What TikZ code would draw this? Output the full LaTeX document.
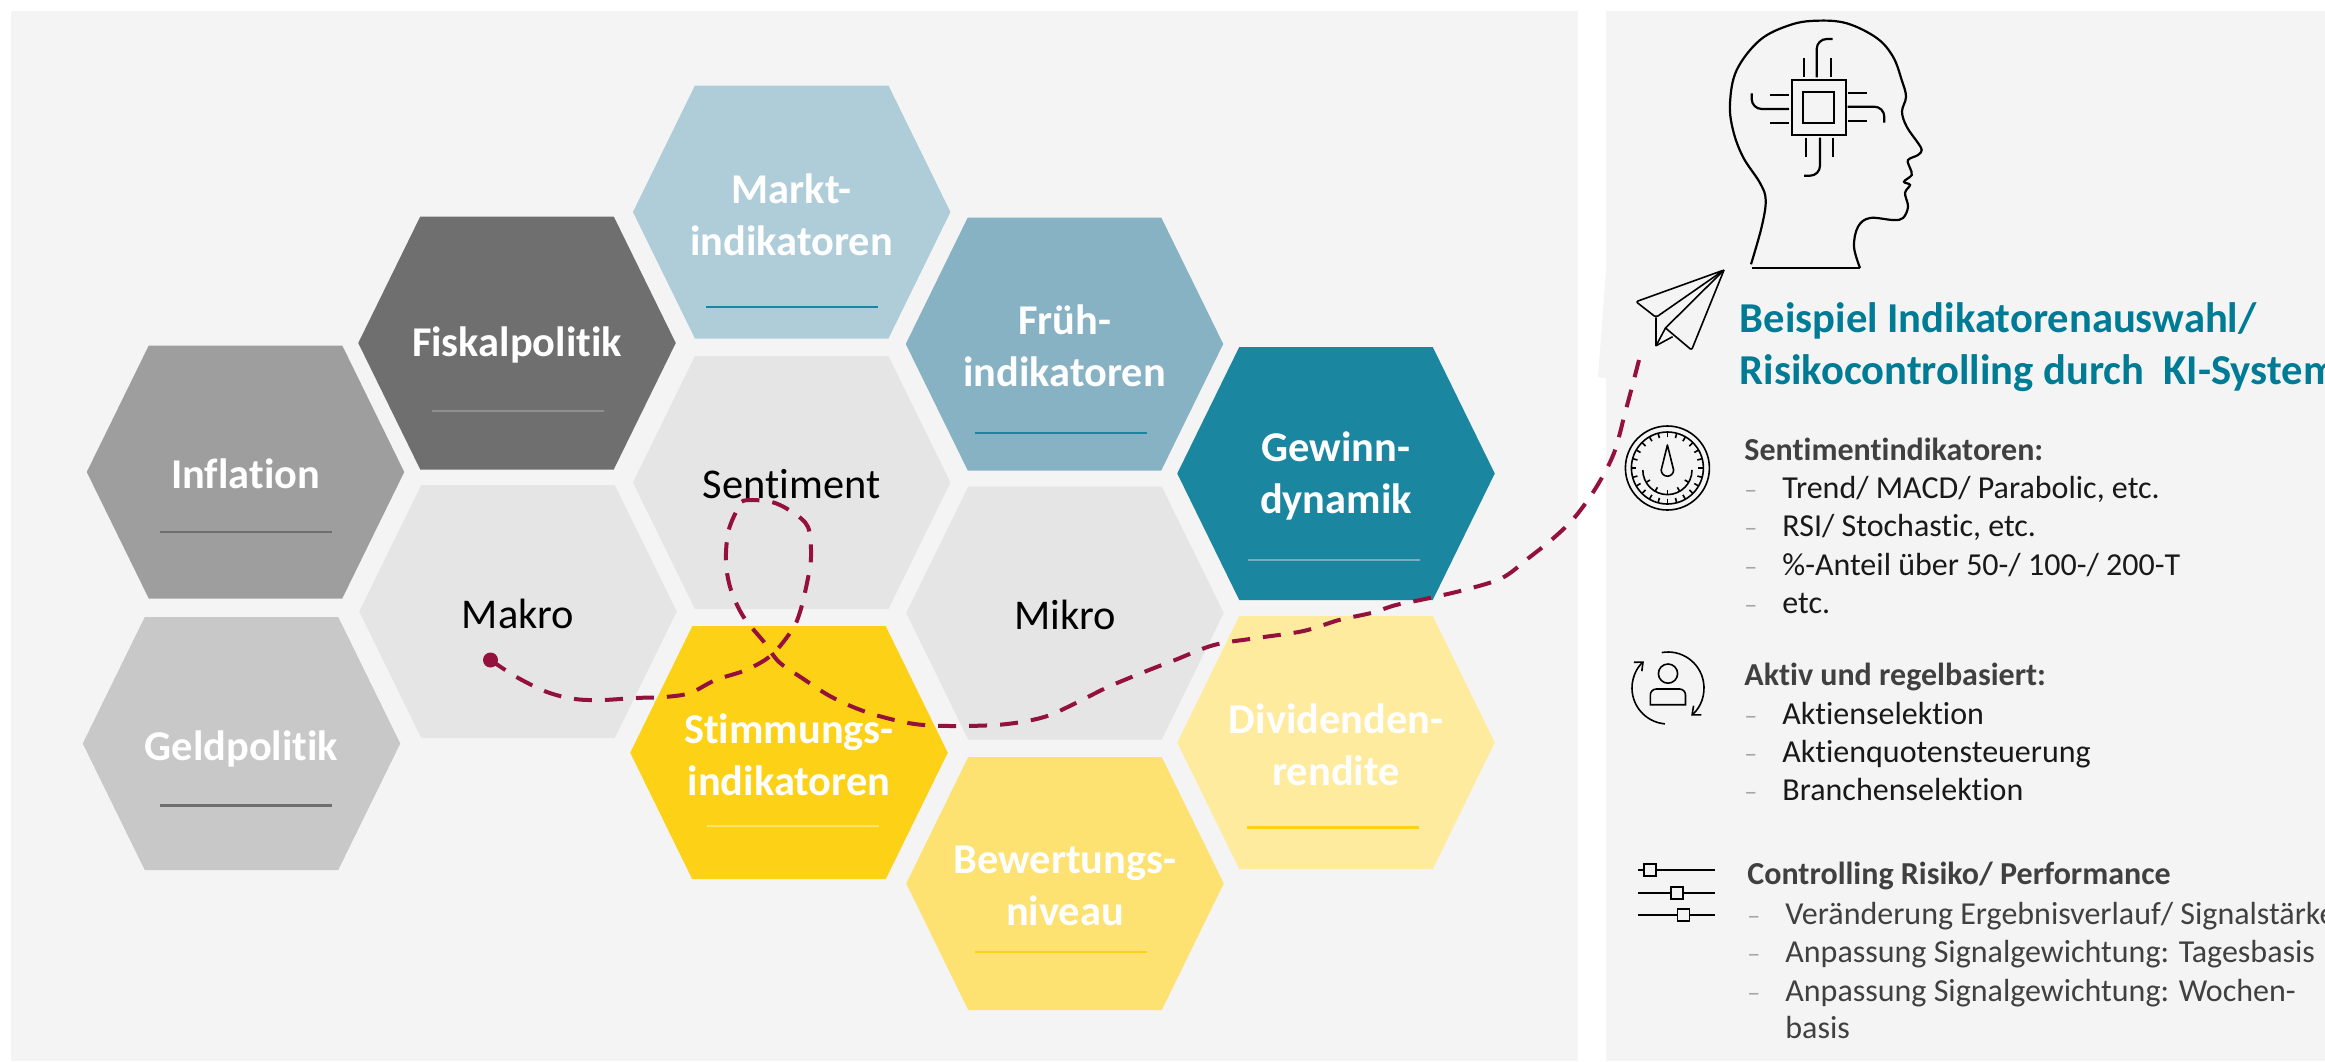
\documentclass[tikz,border=0pt]{standalone}
\usepackage{fontspec}
\setmainfont[Ligatures=NoCommon]{Carlito}
\usetikzlibrary{calc,arrows.meta}
\definecolor{panelgrey}{HTML}{F4F4F4}
\definecolor{cellgrey}{HTML}{E5E5E5}
\definecolor{teal}{HTML}{1A86A0}
\definecolor{titleteal}{HTML}{007B96}
\definecolor{paleteal}{HTML}{AFCDD9}
\definecolor{midteal}{HTML}{87B2C3}
\definecolor{softteal}{HTML}{76AFC0}
\definecolor{darkgrey}{HTML}{6F6F6F}
\definecolor{midgrey}{HTML}{9E9E9E}
\definecolor{lightgrey}{HTML}{C8C8C8}
\definecolor{rulegrey}{HTML}{8F8F8F}
\definecolor{gold}{HTML}{FCD116}
\definecolor{softgold}{HTML}{FDE171}
\definecolor{palegold}{HTML}{FFEB9E}
\definecolor{trailred}{HTML}{93113C}
\definecolor{bodygrey}{HTML}{404040}
\definecolor{dashgrey}{HTML}{A6A6A6}
\tikzset{
  celltext/.style = {align=center, inner sep=0pt, font=\fontsize{21.2}{26}\selectfont\bfseries, text=white},
  graytext/.style = {inner sep=0pt, font=\fontsize{21.2}{26}\selectfont, text=black},
  trail/.style = {draw=trailred, line width=2pt, dash pattern=on 9pt off 6.5pt},
  iconline/.style = {draw=black, line width=1.1pt},
  thinicon/.style = {draw=black, line width=0.8pt},
  headtext/.style = {anchor=base west, inner sep=0pt, font=\fontsize{16}{19}\selectfont\bfseries, text=bodygrey},
  itemtext/.style = {anchor=base west, inner sep=0pt, font=\fontsize{16}{19}\selectfont},
  dashtext/.style = {anchor=base west, inner sep=0pt, font=\fontsize{13}{16}\selectfont, text=dashgrey}
}
% name, x, y, fill, rule colour, rule offset, label, rule shift, label shift
\newcommand{\hexcell}[9]{
  \fill[#4] (#2-158.75,#3) -- (#2-96.75,#3-126.5) -- (#2+96.75,#3-126.5)
    -- (#2+158.75,#3) -- (#2+96.75,#3+126.5) -- (#2-96.75,#3+126.5) -- cycle;
  \node[celltext] (#1) at (#2,#3+#9) {#7};
  \draw[#5, line width=1.2pt] (#2-86+#8,#3+#6) -- (#2+86+#8,#3+#6);
}
\newcommand{\hexplain}[4]{
  \fill[cellgrey] (#2-158.75,#3) -- (#2-96.75,#3-126.5) -- (#2+96.75,#3-126.5)
    -- (#2+158.75,#3) -- (#2+96.75,#3+126.5) -- (#2-96.75,#3+126.5) -- cycle;
  \node[graytext] (#1) at (#2,#3+2) {#4};
}
\begin{document}
\begin{tikzpicture}[x=0.5pt, y=-0.5pt]
  \useasboundingbox (0,0) rectangle (2325,1061);
  \fill[panelgrey] (11,11) rectangle (1578,1061);
  \fill[panelgrey] (1606,11) rectangle (2325,1061);
  \fill[panelgrey] (1606,270) -- (1598,377) -- (1606,378) -- cycle;

  \hexcell{markt}{791.7}{212}{paleteal}{teal}{95}{Markt-\\indikatoren}{0}{3}
  \hexcell{fiskal}{517}{343}{darkgrey}{rulegrey}{68}{Fiskalpolitik}{1}{2}
  \hexcell{inflation}{245.5}{472}{midgrey}{darkgrey}{60}{Inflation}{0}{2}
  \hexcell{geld}{241.5}{743.5}{lightgrey}{darkgrey}{62}{Geldpolitik}{4}{5}
  \hexcell{frueh}{1064.5}{344}{midteal}{teal}{89}{Früh-\\indikatoren}{-4}{2}
  \hexcell{gewinn}{1336}{473.5}{teal}{softteal}{86.5}{Gewinn-\\dynamik}{-2}{2}
  \hexcell{stimmung}{789}{752.7}{gold}{softgold}{73}{Stimmungs-\\indikatoren}{4}{2}
  \hexcell{dividende}{1336}{742.5}{palegold}{gold}{85}{Dividenden-\\rendite}{-3}{2}
  \hexcell{bewertung}{1065}{883.5}{softgold}{gold}{68.5}{Bewertungs-\\niveau}{-4}{2}
  \hexplain{sentiment}{791.7}{482.5}{Sentiment}
  \hexplain{makro}{518}{611.5}{Makro}
  \hexplain{mikro}{1065}{613}{Mikro}

  \node[circle, fill=trailred, minimum size=7.5pt, inner sep=0pt] (startdot) at (490.5,660) {};
  \coordinate (trailend) at (1639,360);
  \draw[trail] plot[smooth, tension=0.55] coordinates {(startdot.center) (516.5,677) (547,692) (575,699)
    (603,700) (634,698) (664.5,697) (690,693) (715.5,680) (746,670) (771.6,655) (792,630) (800,612)
    (807,583) (811,557) (808,527) (792,512) (771.6,502) (743.6,500.7) (736,512) (728,533) (726,563)
    (731,590) (743.6,617) (764,642) (779,662) (802,678) (828,695) (853,707) (879,716) (914.5,724)
    (950,726) (996,725) (1027,721) (1050,715) (1078,702) (1108,687) (1144,672) (1175,660) (1214,645)
    (1257,638) (1303.6,631) (1339,620) (1371,613) (1396,605) (1425,599) (1464,590) (1502,578)
    (1528.6,558) (1553.6,538) (1575,517) (1596.4,487) (1614,453) (1625,413) (1632,387) (trailend)};

  \draw[iconline] plot[smooth, tension=0.6] coordinates {(1751,264.3) (1761.7,226.7) (1765.7,200) (1760,183)
    (1743,157) (1733,130) (1730,103) (1736.7,70) (1760,40) (1790,25) (1816.7,20.7) (1846.7,23.3)
    (1876.7,38) (1893,56.7) (1901.7,80) (1906,96.7) (1902,111.7) (1906.7,126.7) (1918,143) (1921.7,150)
    (1918,155) (1908,160) (1910,168) (1911.7,175) (1904,181.7) (1910,185) (1905,193) (1908,206.7)
    (1903,218) (1893,220) (1870,218) (1858,226.7) (1854,246.7) (1860,268)};
  \draw[iconline] (1752.3,268.3) -- (1860,268.3);
  \draw[iconline] (1791.7,80) rectangle (1845.7,135);
  \draw[iconline] (1802.7,92.3) rectangle (1834,123.3);
  \foreach \px in {1804,1830.7} \draw[iconline] (\px,58.3) -- (\px,77.3);
  \foreach \px in {1806,1832.7} \draw[iconline] (\px,137.7) -- (\px,157.3);
  \foreach \py in {95,122.7} \draw[iconline] (1770,\py) -- (1789,\py);
  \foreach \py in {93.3,120.7} \draw[iconline] (1847.7,\py) -- (1866.7,\py);
  \draw[iconline, rounded corners=5pt] (1816.7,77.3) |- (1832.7,39);
  \draw[iconline, rounded corners=5pt] (1789,109) -| (1751.7,93.3);
  \draw[iconline, rounded corners=5pt] (1847.7,106.7) -| (1884.3,122.7);
  \draw[iconline, rounded corners=5pt] (1820,137.7) |- (1804,175.7);

  \draw[thinicon, line join=round, rounded corners=1pt] (1724,270) -- (1636,301.7) -- (1656,317.3) -- cycle;
  \draw[thinicon, line join=round] (1656,317.3) -- (1656,345.7) -- (1672.6,336.7);
  \draw[thinicon, line join=round] (1656,345.7) -- (1665.5,328) -- (1724,270);
  \draw[thinicon, line join=round, rounded corners=1pt] (1665.5,328) -- (1691.6,350) -- (1724,270);

  \node[font=\fontsize{21.3}{26}\selectfont\bfseries, text=titleteal, align=left, anchor=base west, inner sep=0pt]
    (title) at (1739.5,384.5) {Beispiel Indikatorenauswahl/\\Risikocontrolling durch\ \ KI-System};

  \coordinate (gauge) at (1667.4,468);
  \draw[thinicon] (gauge) circle[radius=21pt];
  \draw[thinicon] (gauge) circle[radius=18pt];
  \foreach \a in {0,15,...,345} \draw[thinicon] ($(gauge)+(\a:18pt)$) -- ($(gauge)+(\a:15.5pt)$);
  \coordinate (dial) at (1667.4,470);
  \draw[thinicon] ($(dial)+(180:12.3pt)$) arc[start angle=180, end angle=360, radius=12.3pt];
  \foreach \a in {210,240,270,300,330} \draw[thinicon] ($(dial)+(\a:12.3pt)$) -- ($(dial)+(\a:10pt)$);
  \draw[thinicon, line join=round] (1667.4,445) -- (1673.6,470)
    arc[start angle=0, end angle=-180, radius=3.1pt] -- cycle;

  \coordinate (person) at (1668,688);
  \draw[thinicon, -{Straight Barb[length=3.5pt,width=6pt]}] ($(person)+(100:18pt)$) arc[start angle=100, end angle=-50, radius=18pt];
  \draw[thinicon, -{Straight Barb[length=3.5pt,width=6pt]}] ($(person)+(-95:18pt)$) arc[start angle=-95, end angle=-228, radius=18pt];
  \draw[thinicon] (1668,673.6) circle[radius=4.8pt];
  \draw[thinicon] (1650.3,704.7) {[rounded corners=3pt] -- (1650.3,689) -- (1685.5,689)} -- (1685.5,704.7) -- cycle;

  \foreach \py/\px in {870/1650, 892.8/1677, 915/1683.6} {
    \draw[thinicon] (1638,\py) -- (1715.4,\py);
    \draw[thinicon, fill=panelgrey] (\px-6,\py-6) rectangle (\px+6,\py+6);
  }

  \node[headtext] (sentimenthead) at (1744,460.5) {Sentimentindikatoren:};
  \foreach \yb/\lbl in {498.5/{Trend/ MACD/ Parabolic, etc.}, 536.5/{RSI/ Stochastic, etc.},
      575/{\%-Anteil über 50-/ 100-/ 200-T}, 613.5/{etc.}} {
    \node[dashtext] (sentdash\yb) at (1744,\yb) {–};
    \node[itemtext, text=black!90] (sentitem\yb) at (1782,\yb) {\lbl};
  }
  \node[headtext] (aktivhead) at (1744,685.5) {Aktiv und regelbasiert:};
  \foreach \yb/\lbl in {724.5/{Aktienselektion}, 762.5/{Aktienquotensteuerung}, 800.5/{Branchenselektion}} {
    \node[dashtext] (aktivdash\yb) at (1744,\yb) {–};
    \node[itemtext, text=black!90] (aktivitem\yb) at (1782,\yb) {\lbl};
  }
  \node[headtext] (controlhead) at (1747,884.5) {Controlling Risiko/ Performance};
  \foreach \yb/\lbl in {924.5/{Veränderung Ergebnisverlauf/ Signalstärke}, 962.5/{Anpassung Signalgewichtung: Tagesbasis},
      1001/{Anpassung Signalgewichtung: Wochen-}} {
    \node[dashtext] (controldash\yb) at (1747,\yb) {–};
    \node[itemtext, text=bodygrey] (controlitem\yb) at (1785,\yb) {\lbl};
  }
  \node[itemtext, text=bodygrey] (controlitemlast) at (1785,1038.5) {basis};
\end{tikzpicture}
\end{document}
